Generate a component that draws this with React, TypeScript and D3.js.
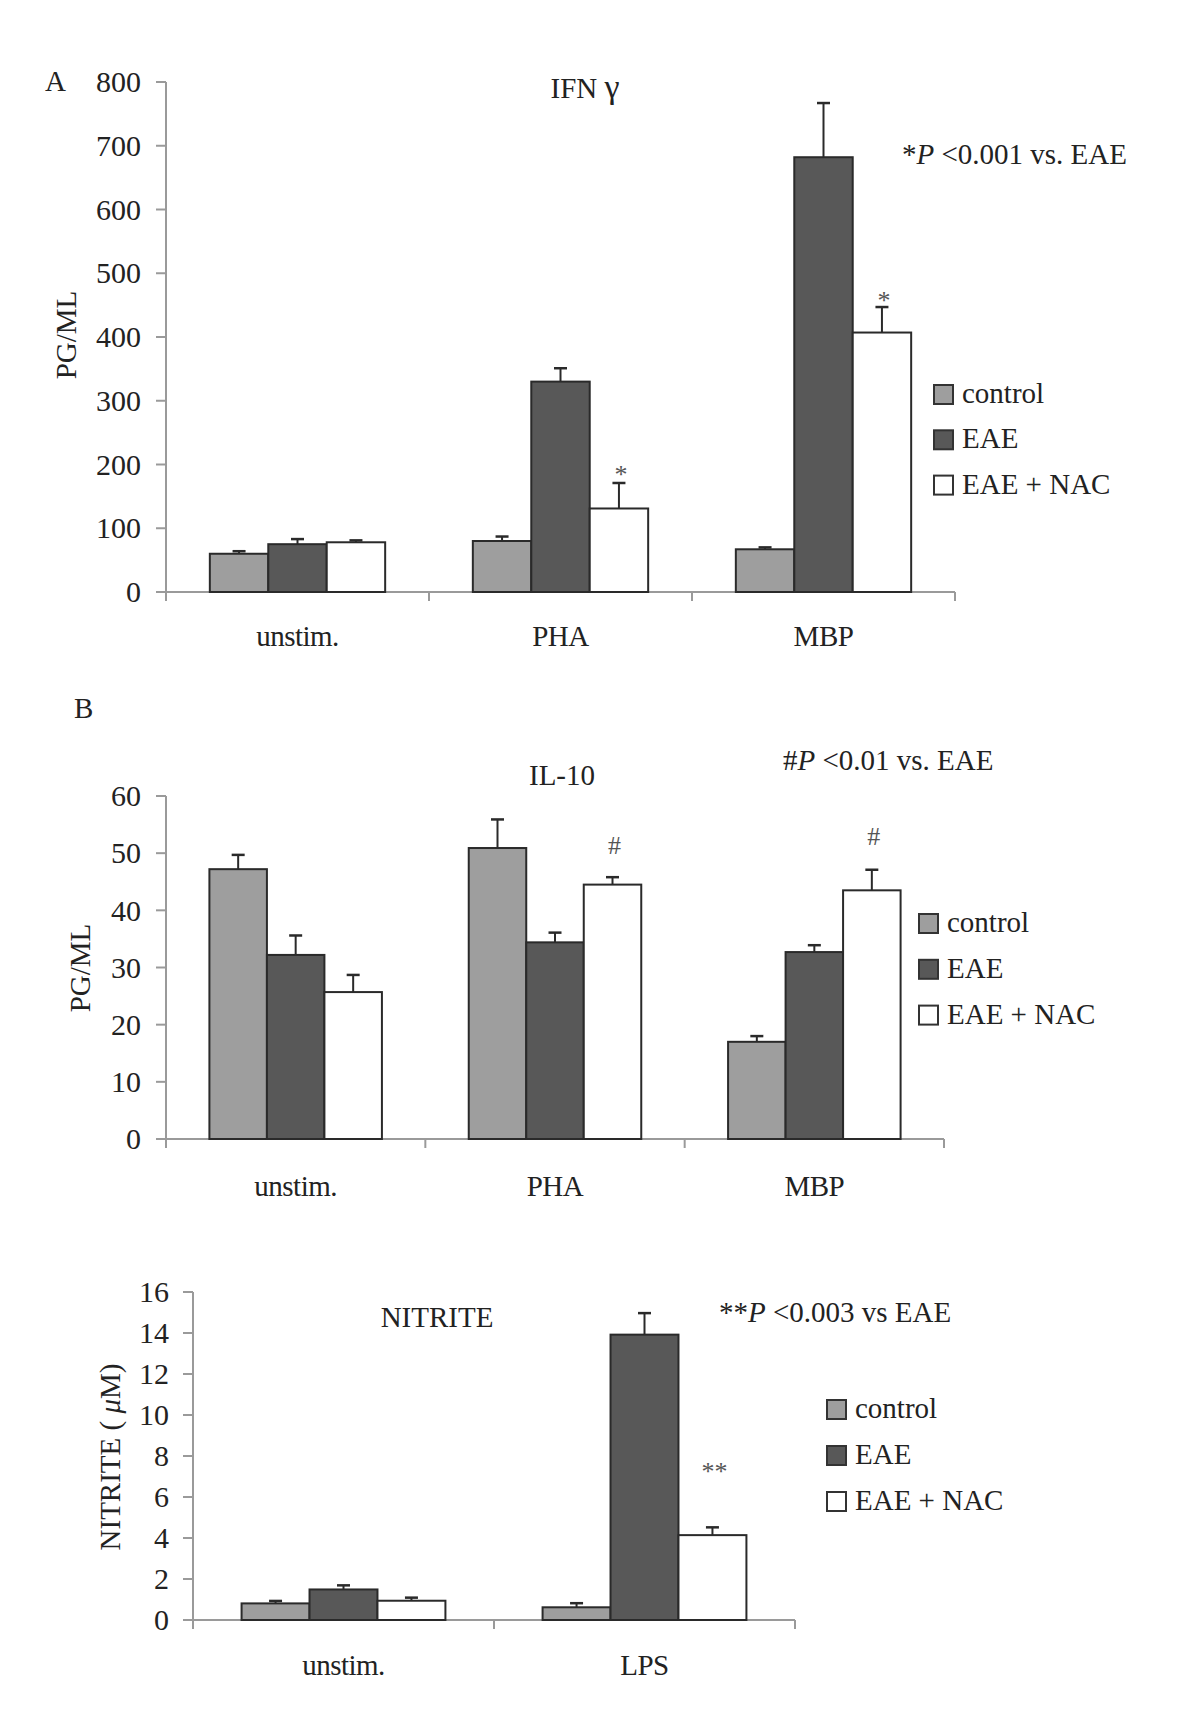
import React from 'react';
import * as d3 from 'd3';

const FONT = '"Liberation Serif", "Times New Roman", serif';

const seriesNames = ['control', 'EAE', 'EAE + NAC'];
const seriesFill = ['#9e9e9e', '#585858', '#ffffff'];

// Panel A: IFN gamma
const ifnCategories = ['unstim.', 'PHA', 'MBP'];
const ifnControl = [60, 80, 67];
const ifnControlErr = [4, 7, 3];
const ifnEAE = [75, 330, 682];
const ifnEAEErr = [8, 21, 85];
const ifnNAC = [78, 131, 407];
const ifnNACErr = [3, 40, 40];
const ifnTicks = [0, 100, 200, 300, 400, 500, 600, 700, 800];

// Panel B: IL-10
const il10Categories = ['unstim.', 'PHA', 'MBP'];
const il10Control = [47.2, 50.9, 17.0];
const il10ControlErr = [2.5, 5.0, 1.0];
const il10EAE = [32.2, 34.4, 32.7];
const il10EAEErr = [3.4, 1.7, 1.2];
const il10NAC = [25.7, 44.5, 43.5];
const il10NACErr = [3.0, 1.3, 3.6];
const il10Ticks = [0, 10, 20, 30, 40, 50, 60];

// Panel C: Nitrite
const nitCategories = ['unstim.', 'LPS'];
const nitControl = [0.81, 0.62];
const nitControlErr = [0.12, 0.2];
const nitEAE = [1.49, 13.92];
const nitEAEErr = [0.2, 1.05];
const nitNAC = [0.94, 4.14];
const nitNACErr = [0.15, 0.38];
const nitTicks = [0, 2, 4, 6, 8, 10, 12, 14, 16];

type Mark = { cat: number; ser: number; text: string; gap: number; size: number };

type PanelProps = {
  cats: string[];
  values: number[][];
  errs: number[][];
  ticks: number[];
  xLeft: number;
  xRight: number;
  yTop: number;
  yZero: number;
  padOuter: number;
  legendX: number;
  legendY: number;
  legendStep: number;
  title: React.ReactNode;
  titleX: number;
  titleY: number;
  ylabel: React.ReactNode;
  ylabelX: number;
  ylabelY: number;
  note: React.ReactNode;
  noteX: number;
  noteY: number;
  marks: Mark[];
  catLabelDy: number;
  tickGap: number;
};

function Panel(p: PanelProps) {
  const yMax = p.ticks[p.ticks.length - 1];
  const y = d3.scaleLinear().domain([0, yMax]).range([p.yZero, p.yTop]);
  const x0 = d3.scaleBand<string>().domain(p.cats).range([p.xLeft, p.xRight]).paddingInner(0).paddingOuter(0);
  const x1 = d3
    .scaleBand<string>()
    .domain(seriesNames)
    .range([0, x0.bandwidth()])
    .paddingInner(0)
    .paddingOuter(p.padOuter);
  const axisColor = '#9a9a9a';
  const boundaries = p.cats.map((c) => x0(c)!).concat([p.xRight]);
  return (
    <g>
      {/* y axis */}
      <line x1={p.xLeft} x2={p.xLeft} y1={p.yTop} y2={p.yZero + 9} stroke={axisColor} strokeWidth={2} />
      {p.ticks.map((t) => (
        <g key={t}>
          <line x1={p.xLeft - 10} x2={p.xLeft} y1={y(t)} y2={y(t)} stroke={axisColor} strokeWidth={2} />
          <text x={p.xLeft - p.tickGap} y={y(t)} dy="0.34em" textAnchor="end" fontSize={30} fill="#222">
            {t}
          </text>
        </g>
      ))}
      {/* x axis */}
      <line x1={p.xLeft - 10} x2={p.xRight} y1={p.yZero} y2={p.yZero} stroke={axisColor} strokeWidth={2} />
      {boundaries.map((bx, i) => (
        <line key={i} x1={bx} x2={bx} y1={p.yZero} y2={p.yZero + 9} stroke={axisColor} strokeWidth={2} />
      ))}
      {p.cats.map((c) => (
        <text
          key={c}
          x={x0(c)! + x0.bandwidth() / 2}
          y={p.yZero + p.catLabelDy}
          textAnchor="middle"
          fontSize={29}
          fill="#222"
          letterSpacing={-0.5}
        >
          {c}
        </text>
      ))}
      {/* bars */}
      {p.cats.map((c, ci) =>
        seriesNames.map((s, si) => {
          const v = p.values[si][ci];
          const e = p.errs[si][ci];
          const bx = x0(c)! + x1(s)!;
          const bw = x1.bandwidth();
          const cx = bx + bw / 2;
          return (
            <g key={c + s}>
              <line x1={cx} x2={cx} y1={y(v)} y2={y(v + e)} stroke="#2a2a2a" strokeWidth={2} />
              <line x1={cx - 6.5} x2={cx + 6.5} y1={y(v + e)} y2={y(v + e)} stroke="#2a2a2a" strokeWidth={2.5} />
              <rect x={bx} y={y(v)} width={bw} height={p.yZero - y(v)} fill={seriesFill[si]} stroke="#2a2a2a" strokeWidth={2} />
            </g>
          );
        })
      )}
      {/* significance marks */}
      {p.marks.map((m, i) => {
        const c = p.cats[m.cat];
        const s = seriesNames[m.ser];
        const cx = x0(c)! + x1(s)! + x1.bandwidth() / 2;
        const top = y(p.values[m.ser][m.cat] + p.errs[m.ser][m.cat]);
        return (
          <text key={i} x={cx + 2} y={top - m.gap} textAnchor="middle" fontSize={m.size} fill="#555">
            {m.text}
          </text>
        );
      })}
      {/* legend */}
      {seriesNames.map((s, i) => (
        <g key={s}>
          <rect
            x={p.legendX}
            y={p.legendY + i * p.legendStep}
            width={19}
            height={19}
            fill={seriesFill[i]}
            stroke="#333"
            strokeWidth={2}
          />
          <text x={p.legendX + 28} y={p.legendY + i * p.legendStep + 18} fontSize={29} fill="#222">
            {s}
          </text>
        </g>
      ))}
      {/* title */}
      <text x={p.titleX} y={p.titleY} textAnchor="middle" fontSize={29} fill="#222">
        {p.title}
      </text>
      {/* y label */}
      <text
        transform={`translate(${p.ylabelX},${p.ylabelY}) rotate(-90)`}
        textAnchor="middle"
        dy="0.35em"
        fontSize={29}
        fill="#222"
      >
        {p.ylabel}
      </text>
      {/* note */}
      <text x={p.noteX} y={p.noteY} fontSize={29} fill="#222">
        {p.note}
      </text>
    </g>
  );
}

export default function App() {
  return (
    <svg
      width={1200}
      height={1731}
      style={{ position: 'absolute', left: 0, top: 0, background: '#fff' }}
      fontFamily={FONT}
    >
      <rect x={0} y={0} width={1200} height={1731} fill="#fff" />
      <text x={45} y={91} fontSize={29} fill="#222">A</text>
      <text x={74} y={718} fontSize={29} fill="#222">B</text>
      <Panel
        cats={ifnCategories}
        values={[ifnControl, ifnEAE, ifnNAC]}
        errs={[ifnControlErr, ifnEAEErr, ifnNACErr]}
        ticks={ifnTicks}
        xLeft={166}
        xRight={955}
        yTop={82}
        yZero={592}
        padOuter={0.75}
        legendX={934}
        legendY={385}
        legendStep={45.3}
        title={
          <>
            <tspan>IFN </tspan>
            <tspan fontSize={34}>γ</tspan>
          </>
        }
        titleX={585}
        titleY={98}
        ylabel="PG/ML"
        ylabelX={66}
        ylabelY={335}
        note={
          <>
            <tspan>*</tspan>
            <tspan fontStyle="italic">P</tspan>
            <tspan> &lt;0.001 vs. EAE</tspan>
          </>
        }
        noteX={902}
        noteY={164}
        marks={[
          { cat: 1, ser: 2, text: '*', gap: 0, size: 26 },
          { cat: 2, ser: 2, text: '*', gap: -2, size: 26 },
        ]}
        catLabelDy={54}
        tickGap={25}
      />
      <Panel
        cats={il10Categories}
        values={[il10Control, il10EAE, il10NAC]}
        errs={[il10ControlErr, il10EAEErr, il10NACErr]}
        ticks={il10Ticks}
        xLeft={166}
        xRight={944}
        yTop={796}
        yZero={1139}
        padOuter={0.755}
        legendX={919}
        legendY={914}
        legendStep={45.8}
        title="IL-10"
        titleX={562}
        titleY={785}
        ylabel="PG/ML"
        ylabelX={80}
        ylabelY={968}
        note={
          <>
            <tspan>#</tspan>
            <tspan fontStyle="italic">P</tspan>
            <tspan> &lt;0.01 vs. EAE</tspan>
          </>
        }
        noteX={783}
        noteY={770}
        marks={[
          { cat: 1, ser: 2, text: '#', gap: 23, size: 26 },
          { cat: 2, ser: 2, text: '#', gap: 25, size: 26 },
        ]}
        catLabelDy={57}
        tickGap={25}
      />
      <Panel
        cats={nitCategories}
        values={[nitControl, nitEAE, nitNAC]}
        errs={[nitControlErr, nitEAEErr, nitNACErr]}
        ticks={nitTicks}
        xLeft={193}
        xRight={795}
        yTop={1292}
        yZero={1620}
        padOuter={0.715}
        legendX={827}
        legendY={1400}
        legendStep={46}
        title="NITRITE"
        titleX={437}
        titleY={1327}
        ylabel={
          <>
            <tspan>NITRITE ( </tspan>
            <tspan fontStyle="italic">μ</tspan>
            <tspan>M)</tspan>
          </>
        }
        ylabelX={110}
        ylabelY={1457}
        note={
          <>
            <tspan>**</tspan>
            <tspan fontStyle="italic">P</tspan>
            <tspan> &lt;0.003 vs EAE</tspan>
          </>
        }
        noteX={719}
        noteY={1322}
        marks={[{ cat: 1, ser: 2, text: '**', gap: 47, size: 26 }]}
        catLabelDy={55}
        tickGap={24}
      />
    </svg>
  );
}
